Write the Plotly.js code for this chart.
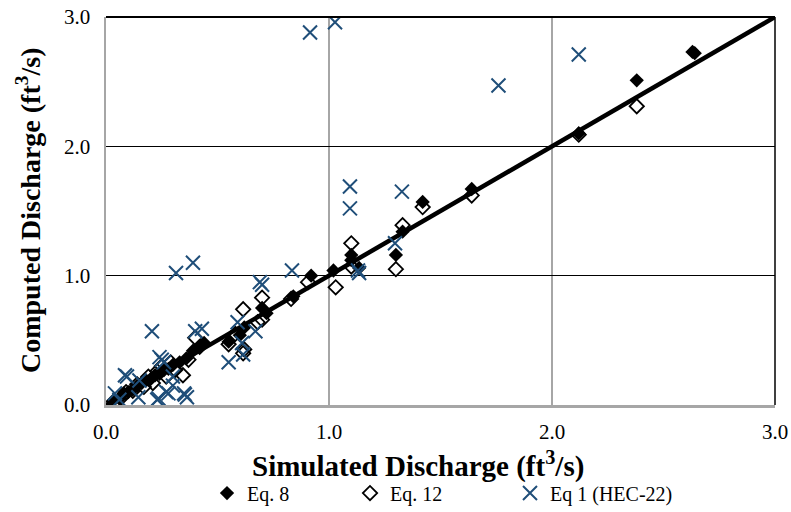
<!DOCTYPE html>
<html>
<head>
<meta charset="utf-8">
<script src="https://cdn.plot.ly/plotly-3.0.1.min.js"></script>
<style>html,body{margin:0;padding:0;background:#fff;}#chart{width:791px;height:512px;}</style>
</head>
<body>
<div id="chart"></div>
<script>
// Eq. 8 (filled diamonds)
const eq8X = [0.03,0.06,0.08,0.10,0.12,0.14,0.16,0.18,0.20,0.22,0.24,0.26,0.28,0.30,0.33,0.36,0.39,0.42,0.44,0.55,0.60,0.62,0.70,0.72,0.84,0.92,1.02,1.10,1.10,1.135,1.30,1.33,1.42,1.64,2.12,2.38,2.63,2.64];
const eq8Y = [0.03,0.05,0.09,0.10,0.12,0.15,0.17,0.19,0.20,0.23,0.24,0.27,0.28,0.31,0.33,0.36,0.42,0.45,0.48,0.49,0.54,0.60,0.75,0.71,0.84,1.00,1.04,1.16,1.12,1.06,1.16,1.34,1.57,1.67,2.10,2.51,2.73,2.72];
// Eq. 12 (open diamonds)
const eq12X = [0.04,0.07,0.09,0.12,0.14,0.17,0.19,0.21,0.23,0.25,0.27,0.29,0.31,0.345,0.37,0.40,0.42,0.55,0.58,0.615,0.62,0.615,0.68,0.70,0.70,0.83,0.906,1.03,1.10,1.10,1.30,1.33,1.42,1.64,2.12,2.38];
const eq12Y = [0.02,0.06,0.10,0.11,0.16,0.14,0.22,0.17,0.26,0.30,0.22,0.33,0.27,0.23,0.35,0.52,0.45,0.47,0.55,0.74,0.43,0.40,0.64,0.83,0.66,0.82,0.95,0.91,1.25,1.07,1.05,1.39,1.53,1.62,2.09,2.31];
// Eq 1 (HEC-22) (x markers)
const eq1X = [0.04,0.06,0.085,0.094,0.145,0.15,0.23,0.235,0.24,0.25,0.26,0.27,0.28,0.30,0.30,0.35,0.354,0.363,0.206,0.314,0.39,0.40,0.43,0.55,0.59,0.61,0.615,0.67,0.69,0.70,0.834,0.915,1.027,1.094,1.094,1.135,1.13,1.296,1.327,1.76,2.12];
const eq1Y = [0.09,0.04,0.23,0.22,0.06,0.19,0.04,0.05,0.37,0.35,0.33,0.10,0.09,0.22,0.15,0.09,0.08,0.06,0.57,1.02,1.10,0.57,0.59,0.33,0.64,0.48,0.39,0.57,0.95,0.93,1.04,2.88,2.96,1.69,1.52,1.02,1.04,1.25,1.65,2.47,2.71];
// 1:1 line
const lineX = [0, 3];
const lineY = [0, 3];
const tickVals = [0, 1, 2, 3];
const tickText = ['0.0', '1.0', '2.0', '3.0'];
const xTitle = '<b>Simulated Discharge (ft<sup>3</sup>/s)</b>';
const yTitle = '<b>Computed Discharge (ft<sup>3</sup>/s)</b>';

const serif = 'Liberation Serif, Times New Roman, serif';
const blue = '#1F4E79';

const traces = [
  {x: eq8X, y: eq8Y, type: 'scatter', mode: 'markers', name: 'Eq. 8', legend: 'legend',
   marker: {symbol: 'diamond', size: 11, color: '#000', line: {width: 0}}},
  {x: eq12X, y: eq12Y, type: 'scatter', mode: 'markers', name: 'Eq. 12', legend: 'legend2',
   marker: {symbol: 'diamond-open', size: 11, color: '#000', line: {width: 1.8, color: '#000'}}},
  {x: lineX, y: lineY, type: 'scatter', mode: 'lines', showlegend: false, hoverinfo: 'skip',
   line: {color: '#000', width: 4.5}},
  {x: eq1X, y: eq1Y, type: 'scatter', mode: 'markers', name: 'Eq 1 (HEC-22)', legend: 'legend3',
   marker: {symbol: 'x-thin-open', size: 14, color: blue, line: {width: 2, color: blue}}}
];

function legendAt(px) {
  return {orientation: 'h', xref: 'container', yref: 'container', x: px / 791, xanchor: 'left',
          y: 0.037, yanchor: 'middle', bgcolor: 'rgba(0,0,0,0)', itemwidth: 20,
          font: {family: serif, size: 20, color: '#000'}};
}

const layout = {
  width: 791, height: 512,
  margin: {l: 106, r: 16, t: 17, b: 107},
  paper_bgcolor: '#fff', plot_bgcolor: '#fff',
  font: {family: serif, size: 20, color: '#000'},
  showlegend: true,
  legend: legendAt(207),
  legend2: legendAt(350),
  legend3: legendAt(510),
  xaxis: {range: [0, 3], tickvals: tickVals, ticktext: tickText, showgrid: true, automargin: false,
          gridcolor: '#A6A6A6', gridwidth: 2, zeroline: false, showline: true,
          linecolor: '#A6A6A6', linewidth: 2.5, ticks: '', ticklabelstandoff: 6,
          tickfont: {family: serif, size: 21, color: '#000'}},
  yaxis: {range: [0, 3], tickvals: tickVals, ticktext: tickText, showgrid: true, automargin: false,
          gridcolor: '#000', gridwidth: 1.5, zeroline: false, showline: true,
          linecolor: '#A6A6A6', linewidth: 2.5, ticks: '', ticklabelstandoff: 9,
          tickfont: {family: serif, size: 21, color: '#000'}},
  annotations: [
    {text: xTitle, xref: 'paper', yref: 'paper', x: (418 - 106) / 669, y: -60 / 388,
     xanchor: 'center', yanchor: 'middle', showarrow: false,
     font: {family: serif, size: 29, color: '#000'}},
    {text: yTitle, xref: 'paper', yref: 'paper', x: (28 - 106) / 669, y: (405 - 210) / 388,
     xanchor: 'center', yanchor: 'middle', textangle: -90, showarrow: false,
     font: {family: serif, size: 28, color: '#000'}}
  ],
  shapes: [
    {type: 'line', xref: 'paper', yref: 'paper', x0: 0, x1: 1, y0: 1, y1: 1, line: {color: '#000', width: 2}},
    {type: 'line', xref: 'paper', yref: 'paper', x0: 1, x1: 1, y0: 0, y1: 1, line: {color: '#000', width: 1.5}}
  ]
};

Plotly.newPlot('chart', traces, layout, {displayModeBar: false, staticPlot: true});
</script>
</body>
</html>
